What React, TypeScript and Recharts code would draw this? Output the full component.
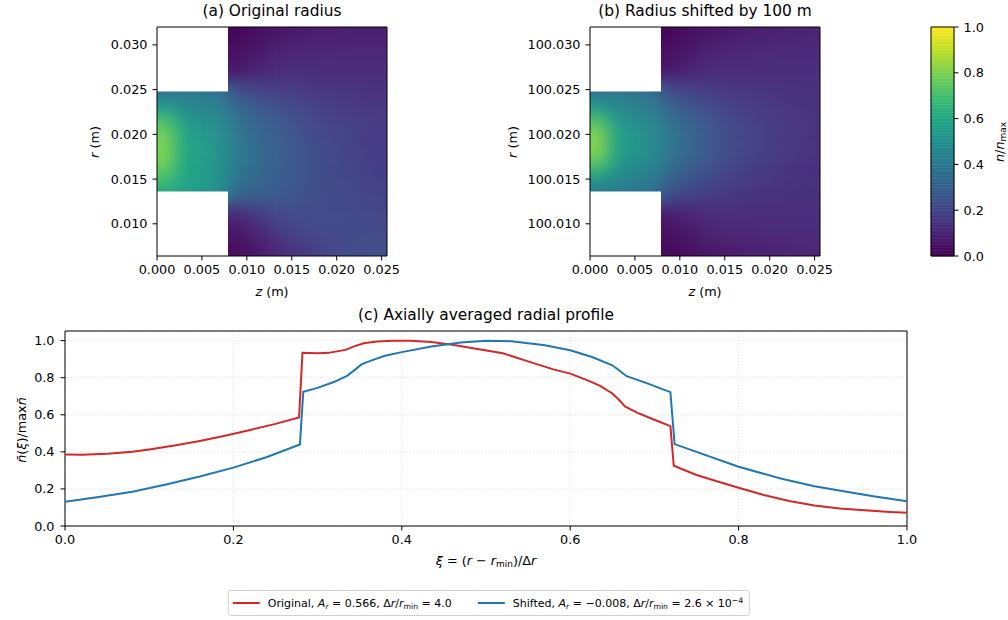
import React from "react";
import { ComposedChart, LineChart, Line, XAxis, YAxis, CartesianGrid, ReferenceArea } from "recharts";

const FONT = "'DejaVu Sans', 'Liberation Sans', sans-serif";

// density grid: cell centres in z and r (m), cells are 2 mm square
const zCentres = [0.001, 0.003, 0.005, 0.007, 0.009, 0.011, 0.013, 0.015, 0.017, 0.019, 0.021, 0.023, 0.025];
const rCentres = [0.031, 0.029, 0.027, 0.025, 0.023, 0.021, 0.019, 0.017, 0.015, 0.013, 0.011, 0.009, 0.007];
const cellSize = 0.002;

// n/n_max per cell, one row per r centre (top row first); null = solid inlet wall
const originalField: (number | null)[][] = [
  [null, null, null, null, 0.01, 0.03, 0.05, 0.06, 0.07, 0.07, 0.08, 0.08, 0.08],
  [null, null, null, null, 0.03, 0.06, 0.08, 0.09, 0.1, 0.1, 0.1, 0.1, 0.1],
  [null, null, null, null, 0.06, 0.09, 0.11, 0.12, 0.12, 0.12, 0.12, 0.12, 0.12],
  [0.38, 0.38, 0.38, 0.37, 0.22, 0.19, 0.17, 0.16, 0.15, 0.14, 0.14, 0.13, 0.13],
  [0.54, 0.47, 0.45, 0.42, 0.33, 0.28, 0.24, 0.21, 0.19, 0.17, 0.16, 0.15, 0.15],
  [0.74, 0.56, 0.51, 0.47, 0.38, 0.32, 0.28, 0.24, 0.21, 0.19, 0.18, 0.17, 0.16],
  [0.8, 0.6, 0.55, 0.49, 0.4, 0.34, 0.3, 0.26, 0.23, 0.21, 0.19, 0.17, 0.16],
  [0.79, 0.6, 0.55, 0.5, 0.4, 0.35, 0.3, 0.27, 0.24, 0.22, 0.2, 0.18, 0.17],
  [0.7, 0.59, 0.55, 0.5, 0.38, 0.34, 0.3, 0.27, 0.24, 0.22, 0.21, 0.19, 0.18],
  [0.57, 0.55, 0.52, 0.48, 0.3, 0.29, 0.27, 0.25, 0.23, 0.22, 0.21, 0.2, 0.19],
  [null, null, null, null, 0.1, 0.15, 0.19, 0.21, 0.22, 0.22, 0.21, 0.21, 0.2],
  [null, null, null, null, 0.05, 0.09, 0.14, 0.18, 0.2, 0.21, 0.21, 0.21, 0.21],
  [null, null, null, null, 0.02, 0.05, 0.09, 0.13, 0.16, 0.19, 0.21, 0.22, 0.23],
];

const shiftedField: (number | null)[][] = [
  [null, null, null, null, 0.01, 0.03, 0.05, 0.06, 0.07, 0.08, 0.08, 0.09, 0.09],
  [null, null, null, null, 0.03, 0.06, 0.08, 0.09, 0.1, 0.1, 0.11, 0.11, 0.11],
  [null, null, null, null, 0.06, 0.09, 0.11, 0.12, 0.12, 0.12, 0.12, 0.12, 0.12],
  [0.38, 0.38, 0.37, 0.36, 0.21, 0.18, 0.16, 0.15, 0.14, 0.14, 0.13, 0.13, 0.13],
  [0.52, 0.46, 0.43, 0.4, 0.31, 0.26, 0.22, 0.19, 0.17, 0.16, 0.15, 0.14, 0.14],
  [0.75, 0.55, 0.49, 0.45, 0.37, 0.31, 0.26, 0.22, 0.19, 0.17, 0.16, 0.15, 0.14],
  [0.82, 0.58, 0.52, 0.47, 0.39, 0.33, 0.27, 0.23, 0.2, 0.18, 0.16, 0.15, 0.14],
  [0.75, 0.55, 0.49, 0.45, 0.37, 0.31, 0.26, 0.22, 0.19, 0.17, 0.16, 0.15, 0.14],
  [0.52, 0.46, 0.43, 0.4, 0.31, 0.26, 0.22, 0.19, 0.17, 0.16, 0.15, 0.14, 0.14],
  [0.38, 0.38, 0.37, 0.36, 0.21, 0.18, 0.16, 0.15, 0.14, 0.14, 0.13, 0.13, 0.13],
  [null, null, null, null, 0.06, 0.09, 0.11, 0.12, 0.12, 0.12, 0.12, 0.12, 0.12],
  [null, null, null, null, 0.03, 0.06, 0.08, 0.09, 0.1, 0.1, 0.11, 0.11, 0.11],
  [null, null, null, null, 0.01, 0.03, 0.05, 0.06, 0.07, 0.08, 0.08, 0.09, 0.09],
];

// domain geometry (m)
const zRange = [0, 0.0256];
const rRange = [0.0064, 0.032];
const inletEndZ = 0.0079;
const channelR = [0.0136, 0.0248];
const radiusShift = 100;

const zTicks = [0, 0.005, 0.01, 0.015, 0.02, 0.025];
const rTicks = [0.01, 0.015, 0.02, 0.025, 0.03];
const colourbarTicks = [0, 0.2, 0.4, 0.6, 0.8, 1];

// axially averaged radial profiles
const originalXi = [0, 0.02, 0.05, 0.08, 0.1, 0.13, 0.16, 0.19, 0.22, 0.25, 0.278, 0.282, 0.3, 0.313, 0.333, 0.345, 0.355, 0.37, 0.39, 0.41, 0.435, 0.46, 0.49, 0.52, 0.55, 0.58, 0.6, 0.62, 0.635, 0.65, 0.657, 0.665, 0.68, 0.7, 0.719, 0.723, 0.75, 0.78, 0.8, 0.83, 0.86, 0.89, 0.92, 0.95, 0.98, 1.0];
const originalProfile = [0.386, 0.384, 0.39, 0.4, 0.413, 0.434, 0.459, 0.487, 0.518, 0.551, 0.585, 0.934, 0.932, 0.934, 0.95, 0.972, 0.986, 0.995, 1.0, 0.999, 0.993, 0.978, 0.955, 0.932, 0.888, 0.845, 0.822, 0.787, 0.757, 0.715, 0.685, 0.645, 0.61, 0.573, 0.539, 0.325, 0.275, 0.233, 0.206, 0.167, 0.135, 0.111, 0.095, 0.085, 0.076, 0.072];
const shiftedXi = [0, 0.04, 0.08, 0.12, 0.16, 0.2, 0.24, 0.279, 0.283, 0.3, 0.32, 0.335, 0.345, 0.352, 0.365, 0.38, 0.4, 0.435, 0.47, 0.5, 0.53, 0.57, 0.6, 0.626, 0.65, 0.658, 0.667, 0.69, 0.719, 0.724, 0.75, 0.8, 0.85, 0.89, 0.93, 0.96, 1.0];
const shiftedProfile = [0.131, 0.156, 0.185, 0.224, 0.267, 0.315, 0.372, 0.44, 0.724, 0.745, 0.778, 0.81, 0.845, 0.872, 0.895, 0.918, 0.938, 0.968, 0.99, 1.0, 0.997, 0.975, 0.948, 0.912, 0.867, 0.84, 0.808, 0.772, 0.722, 0.442, 0.4, 0.32, 0.256, 0.215, 0.183, 0.16, 0.133];
const xiTicks = [0, 0.2, 0.4, 0.6, 0.8, 1];
const profileTicks = [0, 0.2, 0.4, 0.6, 0.8, 1];
const profileTop = 1.052;

const RED = "#d62728";
const BLUE = "#1f77b4";

const viridis = ["#440154", "#482475", "#414487", "#355f8d", "#2a788e", "#21918c", "#22a884", "#44bf70", "#7ad151", "#bddf26", "#fde725"];
const colourbarSteps = 80;

function hexToRgb(h: string) {
  return [1, 3, 5].map((i) => parseInt(h.slice(i, i + 2), 16));
}

function viridisColour(v: number) {
  const t = Math.min(Math.max(v, 0), 1) * (viridis.length - 1);
  const i = Math.min(Math.floor(t), viridis.length - 2);
  const f = t - i;
  const a = hexToRgb(viridis[i]);
  const b = hexToRgb(viridis[i + 1]);
  const c = a.map((x, k) => Math.round(x + (b[k] - x) * f));
  return `rgb(${c[0]},${c[1]},${c[2]})`;
}

type Cell = { z: number; r: number; v: number };

const clampIndex = (i: number, n: number) => Math.min(Math.max(i, 0), n - 1);

// one ring of edge cells is repeated around the grid so the smoothing does not fade at the frame;
// wall cells take the value of the first open column of their row (they sit under the white mask)
function buildCells(field: (number | null)[][], rOffset: number): Cell[] {
  const nz = zCentres.length;
  const nr = rCentres.length;
  const cells: Cell[] = [];
  for (let j = -1; j <= nr; j++) {
    const row = field[clampIndex(j, nr)];
    const firstOpen = row.findIndex((v) => v !== null);
    const r = rOffset + (j < 0 ? rCentres[0] + cellSize : j >= nr ? rCentres[nr - 1] - cellSize : rCentres[j]);
    for (let i = -1; i <= nz; i++) {
      const z = i < 0 ? zCentres[0] - cellSize : i >= nz ? zCentres[nz - 1] + cellSize : zCentres[i];
      const v = row[clampIndex(i, nz)] ?? (row[firstOpen] as number);
      cells.push({ z, r, v });
    }
  }
  return cells;
}

const I = ({ children }: { children: React.ReactNode }) => <span style={{ fontStyle: "italic" }}>{children}</span>;
const Sub = ({ children }: { children: React.ReactNode }) => (
  <span style={{ fontSize: "0.7em", verticalAlign: "-0.22em", lineHeight: 0 }}>{children}</span>
);
const Sup = ({ children }: { children: React.ReactNode }) => (
  <span style={{ fontSize: "0.7em", verticalAlign: "0.5em", lineHeight: 0 }}>{children}</span>
);

function Txt({ x, y, size, rotate, children }: { x: number; y: number; size: number; rotate?: boolean; children: React.ReactNode }) {
  return (
    <div
      style={{
        position: "absolute",
        left: x,
        top: y,
        transform: `translate(-50%, -50%)${rotate ? " rotate(-90deg)" : ""}`,
        fontSize: size,
        lineHeight: 1,
        whiteSpace: "nowrap",
        color: "#000",
      }}
    >
      {children}
    </div>
  );
}

const tickStyle = { fontSize: 12.8, fill: "#000", fontFamily: FONT };
const tickLine = { stroke: "#000", strokeWidth: 1 };

const plotTop = 27;
const plotW = 230;
const plotH = 229;
const panelW = 420;
const panelH = 310;
const yAxisW = 60;
const xAxisH = 30;

function FieldPanel({ chartLeft, plotLeft, title, field, rOffset, yLabelX }: {
  chartLeft: number; plotLeft: number; title: string; field: (number | null)[][]; rOffset: number; yLabelX: number;
}) {
  const rDomain = [rRange[0] + rOffset, rRange[1] + rOffset];
  const cells = buildCells(field, rOffset);
  const padX = (plotW * cellSize) / (zRange[1] - zRange[0]);
  const padY = (plotH * cellSize) / (rRange[1] - rRange[0]);
  const half = cellSize / 2;
  const marginLeft = plotLeft - chartLeft - yAxisW;
  const marginRight = panelW - (plotLeft - chartLeft) - plotW;
  return (
    <>
      <div style={{ position: "absolute", left: plotLeft, top: plotTop, width: plotW, height: plotH, overflow: "hidden" }}>
        <div style={{ position: "absolute", left: -padX, top: -padY, filter: "blur(8px)" }}>
          <ComposedChart width={plotW + 2 * padX} height={plotH + 2 * padY} margin={{ top: 0, right: 0, bottom: 0, left: 0 }}>
            <XAxis type="number" dataKey="z" domain={[zRange[0] - cellSize, zRange[1] + cellSize]} hide allowDataOverflow />
            <YAxis type="number" domain={[rDomain[0] - cellSize, rDomain[1] + cellSize]} hide allowDataOverflow />
            {cells.map((c, k) => (
              <ReferenceArea
                key={k}
                x1={c.z - half}
                x2={c.z + half}
                y1={c.r - half}
                y2={c.r + half}
                fill={viridisColour(c.v)}
                fillOpacity={1}
                stroke="none"
                ifOverflow="visible"
              />
            ))}
          </ComposedChart>
        </div>
      </div>
      <div style={{ position: "absolute", left: chartLeft, top: 0 }}>
        <ComposedChart
          width={panelW}
          height={panelH}
          margin={{ top: plotTop, right: marginRight, bottom: panelH - plotTop - plotH - xAxisH, left: marginLeft }}
        >
          <XAxis
            type="number"
            dataKey="z"
            domain={zRange}
            allowDataOverflow
            ticks={zTicks}
            interval={0}
            tickFormatter={(v: number) => v.toFixed(3)}
            axisLine={false}
            tickLine={tickLine}
            tickSize={4.5}
            tickMargin={4}
            tick={tickStyle}
            height={xAxisH}
          />
          <YAxis
            type="number"
            domain={rDomain}
            allowDataOverflow
            ticks={rTicks.map((t) => t + rOffset)}
            interval={0}
            tickFormatter={(v: number) => v.toFixed(3)}
            axisLine={false}
            tickLine={tickLine}
            tickSize={4.5}
            tickMargin={5}
            tick={tickStyle}
            width={yAxisW}
          />
          <ReferenceArea x1={zRange[0]} x2={inletEndZ} y1={channelR[1] + rOffset} y2={rDomain[1]} fill="#fff" fillOpacity={1} stroke="none" ifOverflow="visible" />
          <ReferenceArea x1={zRange[0]} x2={inletEndZ} y1={rDomain[0]} y2={channelR[0] + rOffset} fill="#fff" fillOpacity={1} stroke="none" ifOverflow="visible" />
          <ReferenceArea x1={zRange[0]} x2={zRange[1]} y1={rDomain[0]} y2={rDomain[1]} fill="none" stroke="#000" strokeWidth={1} ifOverflow="visible" />
        </ComposedChart>
      </div>
      <Txt x={plotLeft + plotW / 2} y={12} size={15.4}>{title}</Txt>
      <Txt x={plotLeft + plotW / 2} y={292} size={12.8}><I>z</I> (m)</Txt>
      <Txt x={yLabelX} y={plotTop + plotH / 2} size={12.8} rotate><I>r</I> (m)</Txt>
    </>
  );
}

function Colourbar() {
  const step = 1 / colourbarSteps;
  const bands = Array.from({ length: colourbarSteps }, (_, i) => i * step);
  return (
    <>
      <div style={{ position: "absolute", left: 900, top: 0 }}>
        <ComposedChart width={108} height={panelH} margin={{ top: plotTop, right: 4, bottom: panelH - plotTop - plotH, left: 31 }}>
          <XAxis type="number" dataKey="x" domain={[0, 1]} allowDataOverflow hide />
          <YAxis
            orientation="right"
            type="number"
            domain={[0, 1]}
            allowDataOverflow
            ticks={colourbarTicks}
            interval={0}
            tickFormatter={(v: number) => v.toFixed(1)}
            axisLine={false}
            tickLine={tickLine}
            tickSize={4.5}
            tickMargin={5}
            tick={tickStyle}
            width={50}
          />
          {bands.map((b, i) => {
            const colour = viridisColour(b + step / 2);
            return (
              <ReferenceArea key={i} x1={0} x2={1} y1={b} y2={b + step} fill={colour} fillOpacity={1} stroke={colour} strokeWidth={0.6} ifOverflow="visible" />
            );
          })}
          <ReferenceArea x1={0} x2={1} y1={0} y2={1} fill="none" stroke="#000" strokeWidth={1} ifOverflow="visible" />
        </ComposedChart>
      </div>
      <Txt x={1000} y={plotTop + plotH / 2} size={12.8} rotate>
        <I>n</I>/<I>n</I><Sub>max</Sub>
      </Txt>
    </>
  );
}

const legendItems = [
  {
    colour: RED,
    label: (
      <>
        Original, <I>A</I><Sub><I>r</I></Sub> = 0.566, Δ<I>r</I>/<I>r</I><Sub>min</Sub> = 4.0
      </>
    ),
  },
  {
    colour: BLUE,
    label: (
      <>
        Shifted, <I>A</I><Sub><I>r</I></Sub> = −0.008, Δ<I>r</I>/<I>r</I><Sub>min</Sub> = 2.6 × 10<Sup>−4</Sup>
      </>
    ),
  },
];

function ProfilePanel() {
  const originalData = originalXi.map((xi, i) => ({ xi, value: originalProfile[i] }));
  const shiftedData = shiftedXi.map((xi, i) => ({ xi, value: shiftedProfile[i] }));
  const top = 300;
  return (
    <>
      <div style={{ position: "absolute", left: 0, top }}>
        <LineChart width={1008} height={280} margin={{ top: 31, right: 101, bottom: 24, left: 15 }}>
          <CartesianGrid stroke="#b0b0b0" strokeOpacity={0.4} strokeDasharray="1 2" />
          <XAxis
            type="number"
            dataKey="xi"
            domain={[0, 1]}
            ticks={xiTicks}
            interval={0}
            tickFormatter={(v: number) => v.toFixed(1)}
            axisLine={false}
            tickLine={tickLine}
            tickSize={4.5}
            tickMargin={4}
            tick={tickStyle}
            height={30}
          />
          <YAxis
            type="number"
            domain={[0, profileTop]}
            ticks={profileTicks}
            interval={0}
            tickFormatter={(v: number) => v.toFixed(1)}
            axisLine={false}
            tickLine={tickLine}
            tickSize={4.5}
            tickMargin={6}
            tick={tickStyle}
            width={50}
          />
          <Line data={originalData} dataKey="value" type="linear" stroke={RED} strokeWidth={2} dot={false} isAnimationActive={false} />
          <Line data={shiftedData} dataKey="value" type="linear" stroke={BLUE} strokeWidth={2} dot={false} isAnimationActive={false} />
          <ReferenceArea x1={0} x2={1} y1={0} y2={profileTop} fill="none" stroke="#000" strokeWidth={1} />
        </LineChart>
      </div>
      <Txt x={486} y={316} size={15.4}>(c) Axially averaged radial profile</Txt>
      <Txt x={486} y={561} size={12.8}>
        <I>ξ</I> = (<I>r</I> − <I>r</I><Sub>min</Sub>)/Δ<I>r</I>
      </Txt>
      <Txt x={22} y={430} size={12.8} rotate>
        <I>n̄</I>(<I>ξ</I>)/max<I>n̄</I>
      </Txt>
      <div
        style={{
          position: "absolute",
          left: 489,
          top: 590,
          transform: "translateX(-50%)",
          height: 26,
          boxSizing: "border-box",
          border: "1px solid #d0d0d0",
          borderRadius: 3,
          display: "flex",
          alignItems: "center",
          gap: 26,
          padding: "0 6px 0 4px",
          fontSize: 11,
          whiteSpace: "nowrap",
        }}
      >
        {legendItems.map((item, i) => (
          <div key={i} style={{ display: "flex", alignItems: "center" }}>
            <span style={{ display: "inline-block", width: 27, height: 2, background: item.colour, marginRight: 8 }} />
            <span>{item.label}</span>
          </div>
        ))}
      </div>
    </>
  );
}

export default function App() {
  return (
    <div style={{ position: "relative", width: 1008, height: 620, background: "#fff", fontFamily: FONT, overflow: "hidden" }}>
      <style>{"body{margin:0}"}</style>
      <FieldPanel chartLeft={0} plotLeft={157} title="(a) Original radius" field={originalField} rOffset={0} yLabelX={95} />
      <FieldPanel chartLeft={430} plotLeft={590} title="(b) Radius shifted by 100 m" field={shiftedField} rOffset={radiusShift} yLabelX={513} />
      <Colourbar />
      <ProfilePanel />
    </div>
  );
}
